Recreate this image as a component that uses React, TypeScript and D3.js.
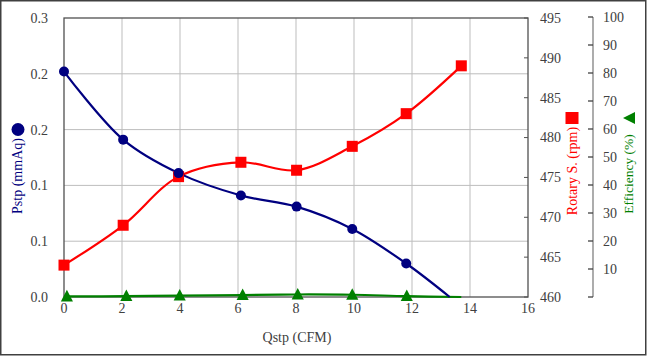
import React from "react";
import * as d3 from "d3";

const W = 647;
const H = 356;

const pstpX = [0, 2.04, 3.95, 6.1, 8.02, 9.94, 11.8, 13.3];
const pstpY = [0.202, 0.141, 0.111, 0.091, 0.081, 0.061, 0.030, 0];

const rpmX = [0, 2.04, 3.95, 6.1, 8.02, 9.94, 11.8, 13.7];
const rpmY = [464, 469, 475.1, 476.9, 475.9, 478.9, 483, 489];

const effX = [0.1, 2.15, 3.99, 6.16, 8.06, 9.94, 11.82, 13.7];
const effY = [0.2, 0.3, 0.5, 0.7, 0.9, 0.8, 0.3, 0];

const xTicks = [0, 2, 4, 6, 8, 10, 12, 14, 16];
const leftTicks = [0, 0.05, 0.1, 0.15, 0.2, 0.25];
const leftTickLabels = ["0.0", "0.1", "0.1", "0.2", "0.2", "0.3"];
const rpmTicks = [460, 465, 470, 475, 480, 485, 490, 495];
const effTicks = [0, 10, 20, 30, 40, 50, 60, 70, 80, 90, 100];

const NAVY = "#000080";
const RED = "#FF0000";
const GREEN = "#008000";
const FONT = "'Liberation Serif', 'Times New Roman', serif";

export default function App() {
  const left = 64, right = 528, top = 18, bottom = 297;
  const x = d3.scaleLinear().domain([0, 16]).range([left, right]);
  const yL = d3.scaleLinear().domain([0, 0.25]).range([bottom, top]);
  const yR = d3.scaleLinear().domain([460, 495]).range([bottom, top]);
  const yE = d3.scaleLinear().domain([0, 100]).range([bottom, 17]);
  const effAxisX = 593;

  const mk = (xs: number[], ys: number[], ys2: (v: number) => number) =>
    d3
      .line<number>()
      .x((_, i) => x(xs[i]))
      .y((v) => ys2(v))
      .curve(d3.curveCatmullRom.alpha(0.5))(ys) || "";

  const pstpPath = mk(pstpX, pstpY, yL);
  const rpmPath = mk(rpmX, rpmY, yR);
  const effPath = mk(effX, effY, yE);

  const tri = (cx: number, cy: number, s: number) =>
    `M${cx},${cy - s * 0.6} L${cx + s * 0.55},${cy + s * 0.45} L${cx - s * 0.55},${cy + s * 0.45} Z`;

  return (
    <svg width={W} height={H} style={{ position: "absolute", left: 0, top: 0, display: "block" }} fontFamily={FONT}>
      <rect x={0} y={0} width={W} height={H} fill="#fff" />
      <rect x={0.75} y={0.75} width={W - 2} height={H - 2} fill="none" stroke="#404040" strokeWidth={1.5} />

      {/* grid */}
      {xTicks.slice(1, -1).map((t) => (
        <line key={"gx" + t} x1={x(t)} x2={x(t)} y1={top} y2={bottom} stroke="#bdbdbd" strokeWidth={1} />
      ))}
      {leftTicks.slice(1, -1).map((t) => (
        <line key={"gy" + t} x1={left} x2={right} y1={yL(t)} y2={yL(t)} stroke="#bdbdbd" strokeWidth={1} />
      ))}

      {/* plot frame */}
      <rect x={left} y={top} width={right - left} height={bottom - top} fill="none" stroke="#505050" strokeWidth={1.3} />

      {/* rpm ticks inside */}
      {rpmTicks.map((t) => (
        <line key={"rt" + t} x1={right - 4} x2={right} y1={yR(t)} y2={yR(t)} stroke="#505050" strokeWidth={1} />
      ))}

      {/* left labels */}
      {leftTicks.map((t, i) => (
        <text key={"ll" + i} x={48} y={yL(t)} dy="0.35em" textAnchor="end" fontSize={14} fill="#404040">
          {leftTickLabels[i]}
        </text>
      ))}
      {/* bottom labels */}
      {xTicks.map((t) => (
        <text key={"xl" + t} x={x(t)} y={313} textAnchor="middle" fontSize={14} fill="#404040">
          {t}
        </text>
      ))}
      <text x={297} y={342} textAnchor="middle" fontSize={14} fill="#404040">
        Qstp (CFM)
      </text>

      {/* rpm labels */}
      {rpmTicks.map((t) => (
        <text key={"rl" + t} x={540} y={yR(t)} dy="0.35em" fontSize={14} fill="#404040">
          {t}
        </text>
      ))}

      {/* efficiency axis */}
      <line x1={effAxisX} x2={effAxisX} y1={yE(100)} y2={yE(0)} stroke="#808080" strokeWidth={1.3} />
      {effTicks.map((t) => (
        <line key={"et" + t} x1={effAxisX - 5} x2={effAxisX} y1={yE(t)} y2={yE(t)} stroke="#404040" strokeWidth={1.3} />
      ))}
      {effTicks.slice(1).map((t) => (
        <text key={"el" + t} x={603} y={yE(t)} dy="0.35em" fontSize={14} fill="#404040">
          {t}
        </text>
      ))}

      {/* axis titles */}
      <text transform="translate(22,176) rotate(-90)" textAnchor="middle" fontSize={14} fill={NAVY}>
        Pstp (mmAq)
      </text>
      <circle cx={18} cy={129.5} r={6.5} fill={NAVY} />

      <text transform="translate(577,171) rotate(-90)" textAnchor="middle" fontSize={14} fill={RED}>
        Rotary S. (rpm)
      </text>
      <rect x={565.5} y={112} width={13} height={12} fill={RED} />

      <text transform="translate(633,174) rotate(-90)" textAnchor="middle" fontSize={13.5} fill={GREEN}>
        Efficiency (%)
      </text>
      <path d="M623,118 L635,112 L635,124 Z" fill={GREEN} />

      {/* series */}
      <path d={effPath} fill="none" stroke={GREEN} strokeWidth={2.2} />
      <path d={rpmPath} fill="none" stroke={RED} strokeWidth={2.2} />
      <path d={pstpPath} fill="none" stroke={NAVY} strokeWidth={2.2} />

      {effY.slice(0, -1).map((v, i) => (
        <path key={"em" + i} d={tri(x(effX[i]), yE(v), 11)} fill={GREEN} />
      ))}
      {rpmY.map((v, i) => (
        <rect key={"rm" + i} x={x(rpmX[i]) - 5.5} y={yR(v) - 5.5} width={11} height={11} fill={RED} />
      ))}
      {pstpY.slice(0, -1).map((v, i) => (
        <circle key={"pm" + i} cx={x(pstpX[i])} cy={yL(v)} r={5} fill={NAVY} />
      ))}
    </svg>
  );
}
